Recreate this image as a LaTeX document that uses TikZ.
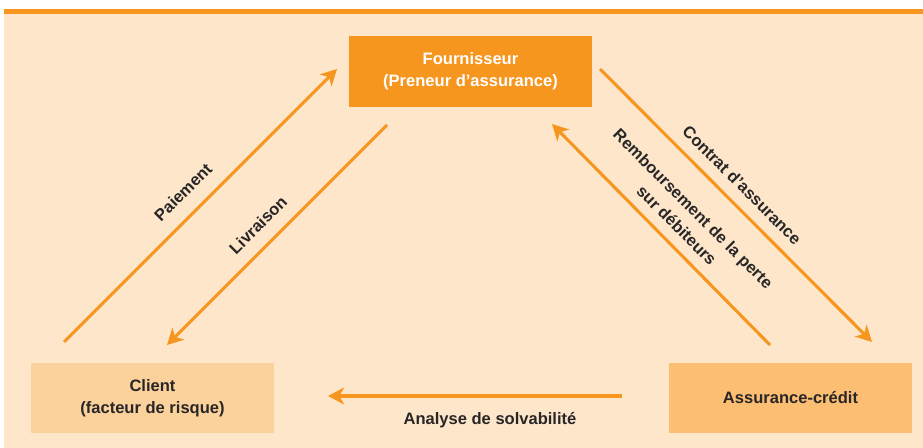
\documentclass[tikz,border=0pt]{standalone}
\usepackage{fontspec}
\setmainfont{Liberation Sans}
\usetikzlibrary{arrows.meta}

\definecolor{orangeF}{RGB}{247,150,30}
\definecolor{peachBg}{RGB}{254,230,203}
\definecolor{clientFill}{RGB}{251,209,156}
\definecolor{assurFill}{RGB}{251,190,115}
\definecolor{inkText}{RGB}{40,38,38}

\begin{document}
\begin{tikzpicture}[x=0.75pt,y=0.75pt,yscale=-1,xscale=1,
	bigbox/.style={minimum width=182.25pt,minimum height=53pt,inner sep=0pt,align=center,font=\bfseries\fontsize{12.4}{16.3}\selectfont},
	flux/.style={draw=orangeF,line width=2.3pt,-{Stealth[length=12pt,width=12.5pt,inset=3.5pt]}},
	lbl/.style={text=inkText,align=center,inner sep=0pt,font=\bfseries\fontsize{12.4}{17.5}\selectfont}]
			\useasboundingbox (0,0) rectangle (923,448);
			
			%Background
			\fill [peachBg] (4,14) rectangle (923,448);
			\fill [orangeF] (4,9) rectangle (923,14);
			
			%Boxes
			\node [bigbox,fill=orangeF,text=white] (four) at (470.5,71.5) {Fournisseur\\(Preneur d’assurance)};
			\node [bigbox,fill=clientFill,text=inkText] (client) at (152.5,398) {Client\\(facteur de risque)};
			\node [bigbox,fill=assurFill,text=inkText] (assur) at (790.5,398) {Assurance-crédit};
			
			%Arrow ends
			\coordinate (paiA) at (64,342);
			\coordinate (paiB) at (337,69);
			\coordinate (livA) at (387,125);
			\coordinate (livB) at (167,345);
			\coordinate (conA) at (600,69);
			\coordinate (conB) at (872,342);
			\coordinate (remA) at (770,345);
			\coordinate (remB) at (552,124);
			\coordinate (anaA) at (622,396);
			\coordinate (anaB) at (328,396);
			
			%Straight Lines
			\draw [flux] (paiA) -- (paiB);
			\draw [flux] (livA) -- (livB);
			\draw [flux] (conA) -- (conB);
			\draw [flux] (remA) -- (remB);
			\draw [flux] (anaA) -- (anaB);
			
			% Text Node
			\node [lbl,rotate=45] (paiTxt) at (183,192) {Paiement};
			% Text Node
			\node [lbl,rotate=45] (livTxt) at (258,225) {Livraison};
			% Text Node
			\node [lbl,rotate=-45] (conTxt) at (742,185) {Contrat d’assurance};
			% Text Node
			\node [lbl,rotate=-45] (remTxt) at (685,217) {Remboursement de la perte\\sur débiteurs};
			% Text Node
			\node [lbl] (anaTxt) at (490,420) {Analyse de solvabilité};
			
\end{tikzpicture}
\end{document}
